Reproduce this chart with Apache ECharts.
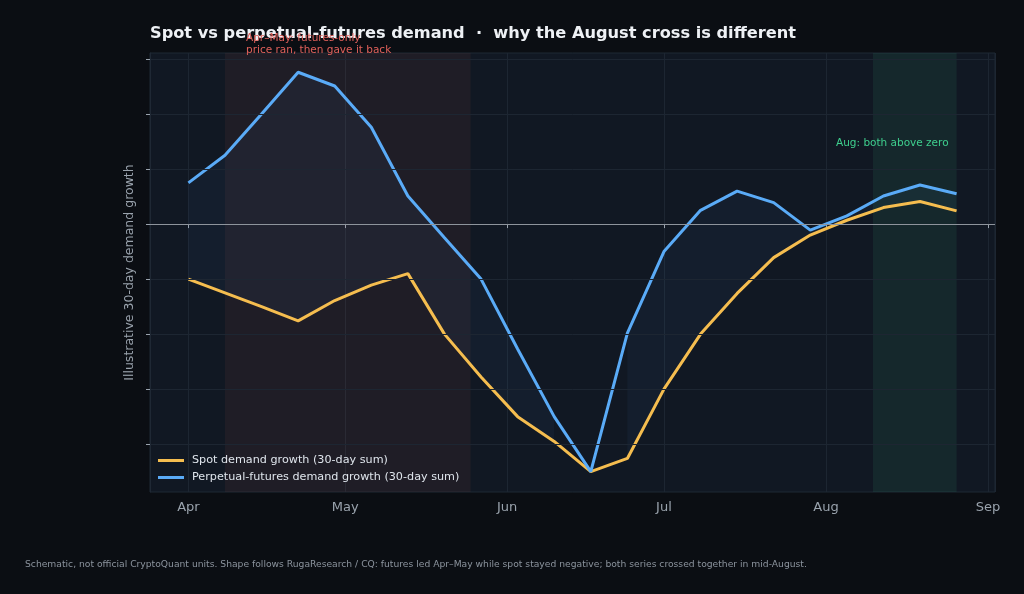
<!DOCTYPE html>
<html>
<head>
<meta charset="utf-8">
<title>Spot vs perpetual-futures demand</title>
<script src="https://cdn.jsdelivr.net/npm/echarts@6/dist/echarts.min.js"></script>
<style>
  html, body { margin: 0; padding: 0; background: #0b0e13; }
  #chart { width: 1024px; height: 594px; }
</style>
</head>
<body>
<div id="chart"></div>
<script>
// weekly points, illustrative units (no official scale)
var weeks = ['2025-04-01', '2025-04-08', '2025-04-15', '2025-04-22', '2025-04-29',
    '2025-05-06', '2025-05-13', '2025-05-20', '2025-05-27', '2025-06-03',
    '2025-06-10', '2025-06-17', '2025-06-24', '2025-07-01', '2025-07-08',
    '2025-07-15', '2025-07-22', '2025-07-29', '2025-08-05', '2025-08-12',
    '2025-08-19', '2025-08-26'];
var spotGrowth = [-1.0, -1.25, -1.5, -1.76, -1.39, -1.11, -0.9, -2.0, -2.78, -3.5,
    -3.95, -4.5, -4.26, -3.0, -2.0, -1.26, -0.61, -0.2, 0.07, 0.3, 0.41, 0.24];
var futuresGrowth = [0.75, 1.25, 2.0, 2.76, 2.51, 1.76, 0.51, -0.25, -1.0, -2.27,
    -3.5, -4.5, -1.98, -0.5, 0.25, 0.6, 0.39, -0.11, 0.15, 0.51, 0.71, 0.55];
var yTicks = [-4, -3, -2, -1, 0, 1, 2, 3];
var redSpan = ['2025-04-08', '2025-05-25'];
var greenSpan = ['2025-08-10', '2025-08-26'];

var DAY = 86400000;
var t0 = +new Date(weeks[0]), t1 = +new Date(weeks[weeks.length - 1]);
var pad = (t1 - t0) * 0.05;
var months = ['Jan', 'Feb', 'Mar', 'Apr', 'May', 'Jun', 'Jul', 'Aug', 'Sep', 'Oct', 'Nov', 'Dec'];

function pairs(vals) {
    var out = [];
    for (var i = 0; i < weeks.length; i++) out.push([weeks[i], vals[i]]);
    return out;
}
// gap shaded only where futures sit above spot
var gapData = [];
for (var i = 0; i < weeks.length; i++) {
    var d = futuresGrowth[i] - spotGrowth[i];
    gapData.push([weeks[i], d > 0.001 ? d : null]);
}
var gridLines = [];
for (var j = 0; j < yTicks.length; j++) {
    if (yTicks[j] !== 0) gridLines.push({yAxis: yTicks[j]});
}

var chart = echarts.init(document.getElementById('chart'));
var option = {
    backgroundColor: '#0b0e13',
    animation: false,
    textStyle: {fontFamily: 'DejaVu Sans'},
    title: {
        text: 'Spot vs perpetual-futures demand  ·  why the August cross is different',
        left: 145,
        top: 21,
        textStyle: {color: '#eef1f5', fontSize: 16.2, fontWeight: 'bold', fontFamily: 'DejaVu Sans'}
    },
    legend: {
        orient: 'vertical',
        left: 153,
        top: 450,
        itemWidth: 26,
        itemHeight: 3,
        itemGap: 6,
        icon: 'rect',
        data: ['Spot demand growth (30-day sum)', 'Perpetual-futures demand growth (30-day sum)'],
        textStyle: {color: '#dfe5ec', fontSize: 11.2, padding: [0, 0, 0, 3]}
    },
    grid: {left: 150, right: 29, top: 53, bottom: 102, show: true,
        backgroundColor: '#111823', borderColor: '#1f2834', borderWidth: 1},
    xAxis: {
        type: 'time',
        min: t0 - pad,
        max: t1 + pad,
        minInterval: 28 * DAY,
        maxInterval: 31 * DAY,
        axisLine: {show: true, lineStyle: {color: '#1f2834'}},
        axisTick: {show: true, length: 4, lineStyle: {color: '#9aa3ad'}},
        splitLine: {show: true, lineStyle: {color: '#1d2632', width: 1}},
        axisLabel: {
            color: '#9aa3ad', fontSize: 13, margin: 9,
            formatter: function (v) { return months[new Date(v).getMonth()]; }
        }
    },
    yAxis: {
        type: 'value',
        min: -4.87,
        max: 3.11,
        name: 'Illustrative 30-day demand growth',
        nameLocation: 'middle',
        nameGap: 14,
        nameTextStyle: {color: '#9aa3ad', fontSize: 12.5},
        axisLine: {show: true, lineStyle: {color: '#1f2834'}},
        axisTick: {show: true, length: 4, customValues: yTicks, lineStyle: {color: '#9aa3ad'}},
        axisLabel: {show: false},
        splitLine: {show: false}
    },
    graphic: [
        {type: 'text', left: 246, top: 32, z: 10, style: {
            text: 'Apr–May: futures-only\nprice ran, then gave it back',
            fill: '#e0605a', fontSize: 10.5, lineHeight: 12, fontFamily: 'DejaVu Sans'}},
        {type: 'text', left: 836, top: 138, z: 10, style: {
            text: 'Aug: both above zero', fill: '#3ecf8e', fontSize: 10.5, fontFamily: 'DejaVu Sans'}},
        {type: 'text', left: 25, top: 560, style: {
            text: 'Schematic, not official CryptoQuant units. Shape follows RugaResearch / CQ: futures led Apr–May while spot stayed negative; both series crossed together in mid-August.',
            fill: '#8b939d', fontSize: 9.2, fontFamily: 'DejaVu Sans'}}
    ],
    series: [{
        name: 'Spot demand growth (30-day sum)',
        type: 'line',
        stack: 'gap',
        stackStrategy: 'all',
        data: pairs(spotGrowth),
        symbol: 'none',
        z: 3,
        color: '#f5bd4f',
        lineStyle: {width: 3, color: '#f5bd4f'},
        markArea: {
            silent: true,
            data: [
                [{xAxis: redSpan[0], itemStyle: {color: 'rgba(224,96,90,0.07)'}}, {xAxis: redSpan[1]}],
                [{xAxis: greenSpan[0], itemStyle: {color: 'rgba(62,207,142,0.09)'}}, {xAxis: greenSpan[1]}]
            ]
        }
    }, {
        name: 'gap',
        type: 'line',
        stack: 'gap',
        stackStrategy: 'all',
        data: gapData,
        symbol: 'none',
        z: 2,
        lineStyle: {width: 0, opacity: 0},
        areaStyle: {color: 'rgba(90,171,247,0.065)'},
        markLine: {
            silent: true,
            symbol: 'none',
            label: {show: false},
            lineStyle: {color: '#1d2632', width: 1, type: 'solid'},
            data: gridLines
        }
    }, {
        name: 'Perpetual-futures demand growth (30-day sum)',
        type: 'line',
        data: pairs(futuresGrowth),
        symbol: 'none',
        z: 4,
        color: '#5aabf7',
        lineStyle: {width: 3, color: '#5aabf7'},
        markLine: {
            silent: true,
            symbol: 'none',
            label: {show: false},
            lineStyle: {color: '#8e949c', width: 1.2, type: 'solid'},
            data: [{yAxis: 0}]
        }
    }]
};
chart.setOption(option);
</script>
</body>
</html>
